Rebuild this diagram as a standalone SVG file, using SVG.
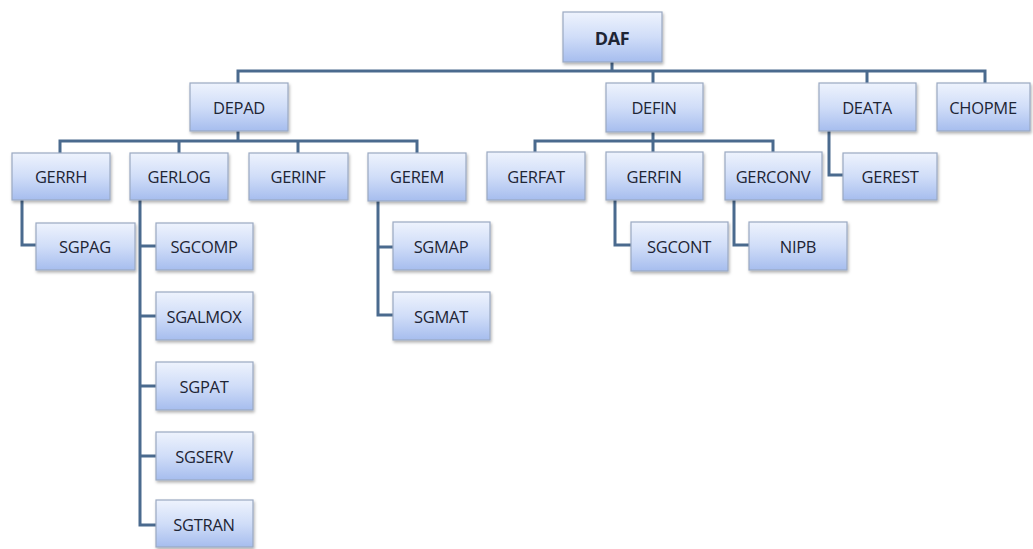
<svg xmlns="http://www.w3.org/2000/svg" width="1033" height="549" viewBox="0 0 1033 549">
<defs>
<linearGradient id="g" x1="0" y1="0" x2="0" y2="1">
<stop offset="0" stop-color="#eef3fd"/>
<stop offset="0.5" stop-color="#d0ddf8"/>
<stop offset="1" stop-color="#a6bdee"/>
</linearGradient>
<filter id="sh" x="-10%" y="-10%" width="130%" height="140%">
<feDropShadow dx="1" dy="2" stdDeviation="1.5" flood-color="#000" flood-opacity="0.3"/>
</filter>
</defs>
<style>
.box{fill:url(#g);stroke:#9aa9c2;stroke-width:1.2;filter:url(#sh)}
.t{font-family:"Open Sans","Liberation Sans",sans-serif;font-size:16.5px;fill:#1e2535;text-anchor:middle;dominant-baseline:central;letter-spacing:-0.3px}
.b{font-weight:bold;font-size:18px}
.c{fill:none;stroke:#4a6a8e;stroke-width:3;stroke-linejoin:miter}
</style>
<rect width="1033" height="549" fill="#ffffff"/>
<g id="connectors">
<path class="c" d="M612 62V71M238 83V71H985V83M653 71V83M867 71V83"/>
<path class="c" d="M238 131V141M60 153V141H417V153M179 141V153M298 141V153"/>
<path class="c" d="M653 132V141M535 152V141H773V152M653 141V152"/>
<path class="c" d="M22 200V245H36"/>
<path class="c" d="M140 200V525H156M140 246H156M140 316H156M140 386H156M140 456H156"/>
<path class="c" d="M378 201V315H393M378 247H393"/>
<path class="c" d="M615 200V245H631"/>
<path class="c" d="M734 200V245H749"/>
<path class="c" d="M829 131V175H843"/>
</g>
<g id="DAF"><rect class="box" x="563" y="12" width="99" height="50"/><text class="t b" x="612" y="38">DAF</text></g>
<g id="DEPAD"><rect class="box" x="190" y="83" width="98" height="48"/><text class="t" x="239" y="107">DEPAD</text></g>
<g id="DEFIN"><rect class="box" x="606" y="83" width="97" height="49"/><text class="t" x="654" y="107">DEFIN</text></g>
<g id="DEATA"><rect class="box" x="819" y="83" width="97" height="48"/><text class="t" x="867" y="107">DEATA</text></g>
<g id="CHOPME"><rect class="box" x="937" y="83" width="93" height="48"/><text class="t" x="983" y="107">CHOPME</text></g>
<g id="GERRH"><rect class="box" x="12" y="153" width="98" height="47"/><text class="t" x="61" y="176">GERRH</text></g>
<g id="GERLOG"><rect class="box" x="130" y="153" width="98" height="47"/><text class="t" x="179" y="176">GERLOG</text></g>
<g id="GERINF"><rect class="box" x="249" y="153" width="99" height="47"/><text class="t" x="298" y="176">GERINF</text></g>
<g id="GEREM"><rect class="box" x="368" y="153" width="98" height="48"/><text class="t" x="417" y="176">GEREM</text></g>
<g id="GERFAT"><rect class="box" x="487" y="152" width="98" height="48"/><text class="t" x="536" y="176">GERFAT</text></g>
<g id="GERFIN"><rect class="box" x="606" y="152" width="97" height="48"/><text class="t" x="654" y="176">GERFIN</text></g>
<g id="GERCONV"><rect class="box" x="725" y="152" width="97" height="48"/><text class="t" x="773" y="176">GERCONV</text></g>
<g id="GEREST"><rect class="box" x="843" y="153" width="94" height="47"/><text class="t" x="890" y="176">GEREST</text></g>
<g id="SGPAG"><rect class="box" x="36" y="223" width="99" height="47"/><text class="t" x="85" y="246">SGPAG</text></g>
<g id="SGCOMP"><rect class="box" x="156" y="223" width="97" height="47"/><text class="t" x="204" y="246">SGCOMP</text></g>
<g id="SGALMOX"><rect class="box" x="156" y="292" width="97" height="48"/><text class="t" x="204" y="316">SGALMOX</text></g>
<g id="SGPAT"><rect class="box" x="156" y="362" width="97" height="48"/><text class="t" x="204" y="386">SGPAT</text></g>
<g id="SGSERV"><rect class="box" x="156" y="432" width="97" height="48"/><text class="t" x="204" y="456">SGSERV</text></g>
<g id="SGTRAN"><rect class="box" x="156" y="500" width="97" height="47"/><text class="t" x="204" y="524">SGTRAN</text></g>
<g id="SGMAP"><rect class="box" x="393" y="222" width="97" height="48"/><text class="t" x="441" y="246">SGMAP</text></g>
<g id="SGMAT"><rect class="box" x="393" y="292" width="97" height="48"/><text class="t" x="441" y="316">SGMAT</text></g>
<g id="SGCONT"><rect class="box" x="631" y="222" width="97" height="49"/><text class="t" x="679" y="246">SGCONT</text></g>
<g id="NIPB"><rect class="box" x="749" y="222" width="98" height="48"/><text class="t" x="798" y="246">NIPB</text></g>
</svg>
